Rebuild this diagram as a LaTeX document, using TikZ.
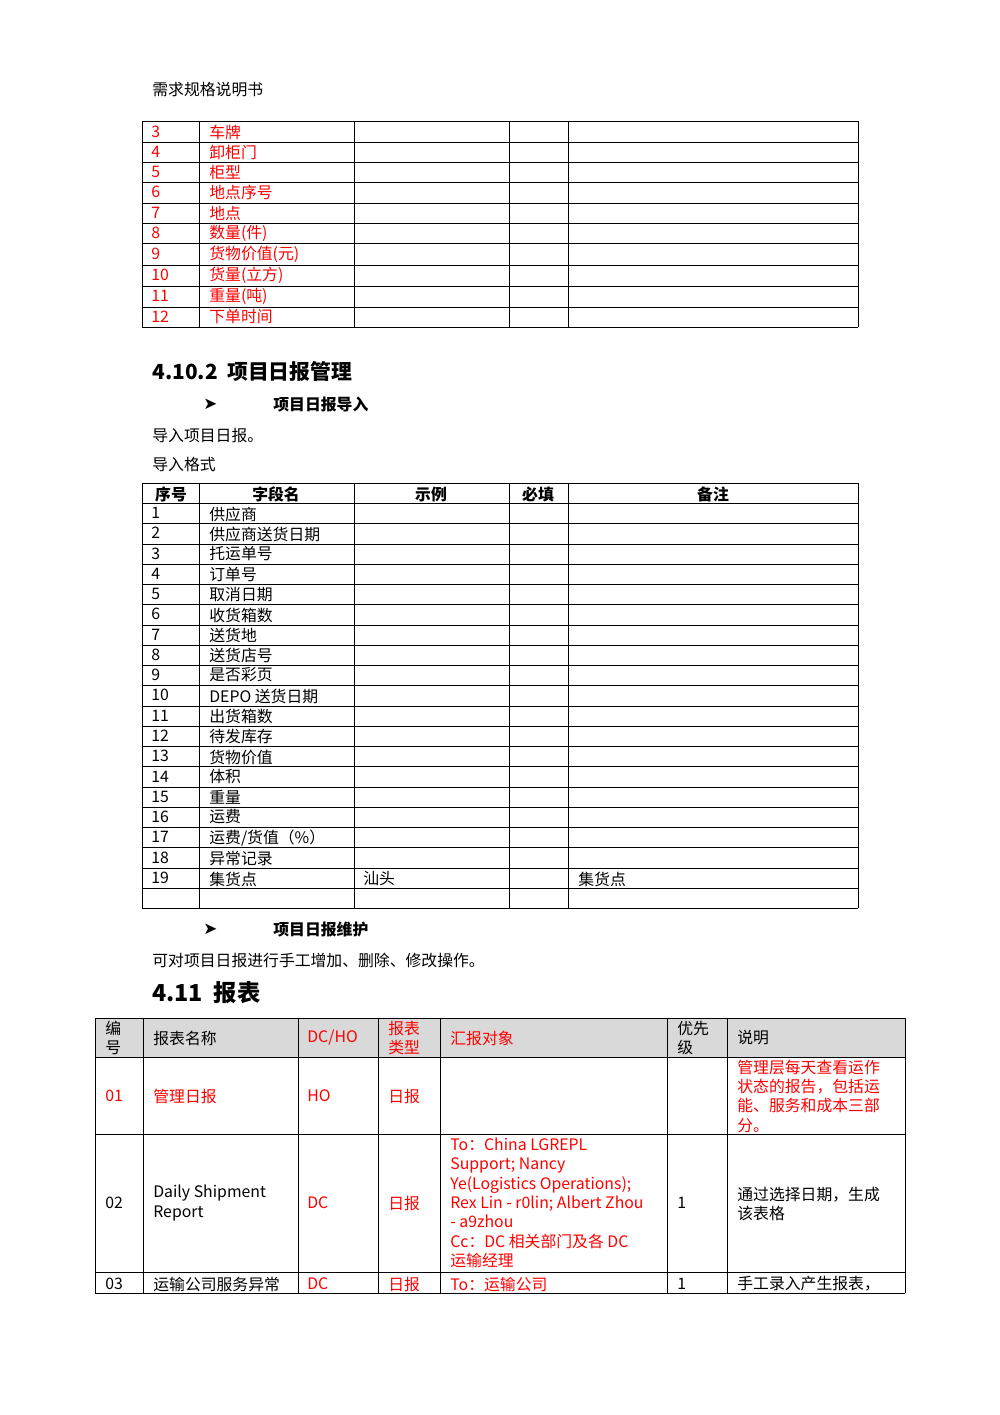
\documentclass[tikz,border=0pt]{standalone}
\usepackage{fontspec}
\setmainfont{Noto Sans CJK SC}
\newfontfamily\arrowfont{DejaVu Sans}
\definecolor{rd}{RGB}{255,0,0}
\definecolor{hdr}{RGB}{217,217,217}
\newcounter{tn}
\newcommand\tx[4][]{\stepcounter{tn}\node[txt,#1] (n\thetn) at (#2,#3) {#4};}
\begin{document}
\begin{tikzpicture}[x=0.6pt,y=-0.6pt,
  txt/.style={anchor=west,inner sep=0pt,font=\fontsize{9.5}{11}\selectfont},
  ctr/.style={anchor=center},
  red/.style={text=rd},
  bld/.style={font=\fontsize{9.5}{11}\selectfont\bfseries},
  ml/.style={align=left,font=\fontsize{9.5}{11.6}\selectfont},
  grid/.style={line width=0.6pt}]
\useasboundingbox (0,0) rectangle (1000,1415);
\tx{152}{90}{需求规格说明书}
% table 1
\foreach \y in {121,142,162,182,203,223,243,265,286,307,327} \draw[grid] (142,\y) -- (858,\y);
\foreach \x in {142,199,354,509,568,858} \draw[grid] (\x,121) -- (\x,327);
\tx[red]{151}{132}{3}\tx[red]{209}{132}{车牌}
\tx[red]{151}{152}{4}\tx[red]{209}{152}{卸柜门}
\tx[red]{151}{172}{5}\tx[red]{209}{172}{柜型}
\tx[red]{151}{192}{6}\tx[red]{209}{192}{地点序号}
\tx[red]{151}{213}{7}\tx[red]{209}{213}{地点}
\tx[red]{151}{233}{8}\tx[red]{209}{233}{数量(件)}
\tx[red]{151}{254}{9}\tx[red]{209}{254}{货物价值(元)}
\tx[red]{151}{275}{10}\tx[red]{209}{275}{货量(立方)}
\tx[red]{151}{296}{11}\tx[red]{209}{296}{重量(吨)}
\tx[red]{151}{317}{12}\tx[red]{209}{317}{下单时间}
% heading
\tx[font=\fontsize{12.5}{14}\selectfont\bfseries]{152}{372}{4.10.2\ \ 项目日报管理}
\tx[font=\arrowfont\fontsize{10}{11}\selectfont]{203}{404}{➤}
\tx[bld]{273}{404}{项目日报导入}
\tx{152}{435}{导入项目日报。}
\tx{152}{464}{导入格式}
% table 2
\foreach \y in {483,503,523,544,564,584,604,625,645,665,685,706,726,746,766,787,807,827,847,868,888,908} \draw[grid] (142,\y) -- (858,\y);
\foreach \x in {142,199,354,509,568,858} \draw[grid] (\x,483) -- (\x,908);
\tx[bld,ctr]{171}{494}{序号}\tx[bld,ctr]{276}{494}{字段名}\tx[bld,ctr]{431}{494}{示例}\tx[bld,ctr]{538}{494}{必填}\tx[bld,ctr]{713}{494}{备注}
\tx{151}{513}{1}\tx{209}{514}{供应商}
\tx{151}{533}{2}\tx{209}{534}{供应商送货日期}
\tx{151}{554}{3}\tx{209}{554}{托运单号}
\tx{151}{574}{4}\tx{209}{574}{订单号}
\tx{151}{594}{5}\tx{209}{594}{取消日期}
\tx{151}{614}{6}\tx{209}{615}{收货箱数}
\tx{151}{635}{7}\tx{209}{635}{送货地}
\tx{151}{655}{8}\tx{209}{655}{送货店号}
\tx{151}{675}{9}\tx{209}{675}{是否彩页}
\tx{151}{695}{10}\tx{209}{696}{DEPO 送货日期}
\tx{151}{716}{11}\tx{209}{716}{出货箱数}
\tx{151}{736}{12}\tx{209}{736}{待发库存}
\tx{151}{756}{13}\tx{209}{757}{货物价值}
\tx{151}{777}{14}\tx{209}{777}{体积}
\tx{151}{797}{15}\tx{209}{797}{重量}
\tx{151}{817}{16}\tx{209}{817}{运费}
\tx{151}{837}{17}\tx{209}{838}{运费/货值（\%）}
\tx{151}{858}{18}\tx{209}{858}{异常记录}
\tx{151}{878}{19}\tx{209}{879}{集货点}\tx{363}{879}{汕头}\tx{578}{879}{集货点}
\tx[font=\arrowfont\fontsize{10}{11}\selectfont]{203}{929}{➤}
\tx[bld]{273}{929}{项目日报维护}
\tx{152}{960}{可对项目日报进行手工增加、删除、修改操作。}
\tx[font=\fontsize{14}{16}\selectfont\bfseries]{152}{993}{4.11\ \ 报表}
% table 3
\fill[hdr] (95,1018) rectangle (905,1057);
\foreach \y in {1018,1057,1134,1272,1293} \draw[grid] (95,\y) -- (905,\y);
\foreach \x in {95,143,298,378,440,667,727,905} \draw[grid] (\x,1018) -- (\x,1293);
\tx[ml]{105}{1038}{编\\号}\tx{153}{1038}{报表名称}\tx[red]{307}{1038}{DC/HO}
\tx[ml,red]{388}{1038}{报表\\类型}\tx[red]{450}{1038}{汇报对象}\tx[ml]{677}{1038}{优先\\级}\tx{737}{1038}{说明}
\tx[red]{105}{1096}{01}\tx[red]{153}{1096}{管理日报}\tx[red]{307}{1096}{HO}\tx[red]{388}{1096}{日报}
\tx[ml,red]{737}{1096}{管理层每天查看运作\\状态的报告，包括运\\能、服务和成本三部\\分。}
\tx{105}{1203}{02}\tx[ml]{153}{1203}{Daily Shipment\\Report}\tx[red]{307}{1203}{DC}\tx[red]{388}{1203}{日报}
\tx[ml,red]{450}{1203}{To：China LGREPL\\Support; Nancy\\Ye(Logistics Operations);\\Rex Lin - r0lin; Albert Zhou\\- a9zhou\\Cc：DC 相关部门及各 DC\\运输经理}
\tx{677}{1203}{1}\tx[ml]{737}{1204}{通过选择日期，生成\\该表格}
\tx{105}{1284}{03}\tx{153}{1284}{运输公司服务异常}\tx[red]{307}{1284}{DC}\tx[red]{388}{1284}{日报}
\tx[red]{450}{1284}{To：运输公司}\tx{677}{1284}{1}\tx{737}{1284}{手工录入产生报表，}
\end{tikzpicture}
\end{document}
